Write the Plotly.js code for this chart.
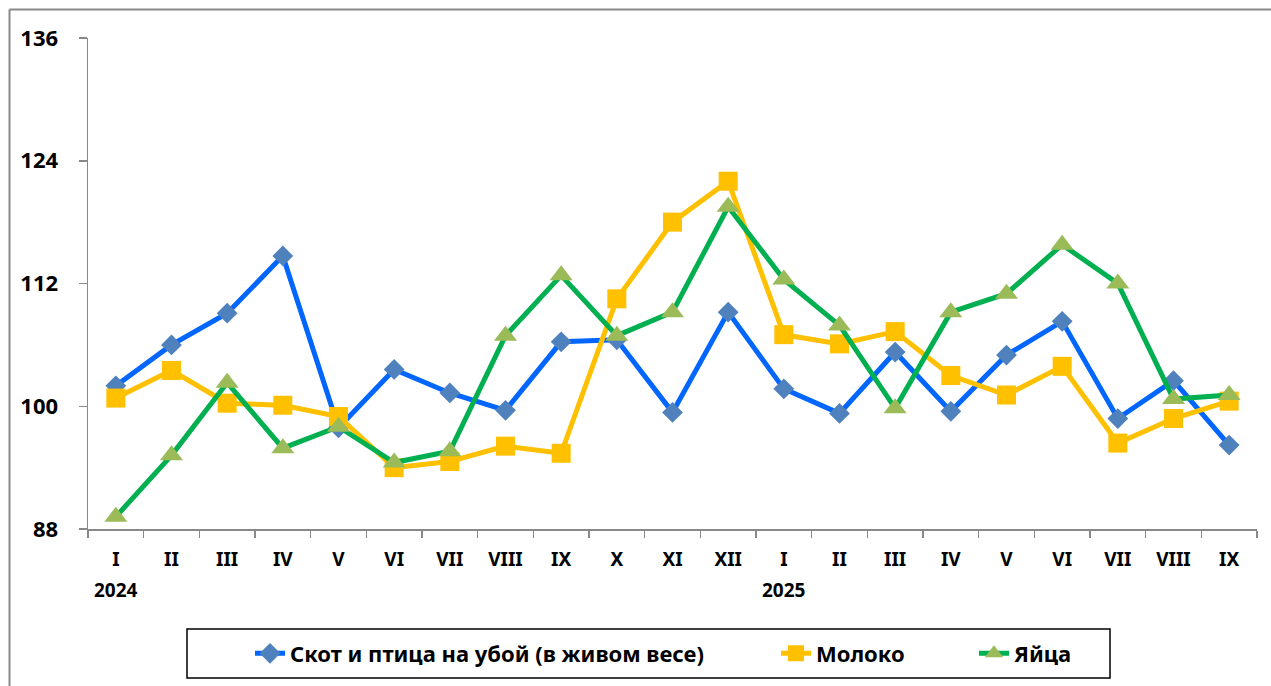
<!DOCTYPE html>
<html>
<head>
<meta charset="utf-8">
<script src="https://cdn.plot.ly/plotly-3.0.1.min.js"></script>
<style>
  html, body { margin: 0; padding: 0; background: #fff; }
  #chart { width: 1271px; height: 686px; }
</style>
</head>
<body>
<div id="chart"></div>
<script>
// Months (Roman numerals) and years
const months = ["I","II","III","IV","V","VI","VII","VIII","IX","X","XI","XII",
                "I","II","III","IV","V","VI","VII","VIII","IX"];
const years  = [2024,2024,2024,2024,2024,2024,2024,2024,2024,2024,2024,2024,
                2025,2025,2025,2025,2025,2025,2025,2025,2025];
const yearLabels = ["2024", "2025"];

const seriesNames = ["Скот и птица на убой (в живом весе)", "Молоко", "Яйца"];

const livestock = [102.0, 106.0, 109.1, 114.7, 97.9, 103.6, 101.3, 99.6, 106.3, 106.5, 99.4, 109.2,
                   101.7, 99.3, 105.3, 99.5, 105.0, 108.3, 98.8, 102.5, 96.2];
const milk      = [100.8, 103.5, 100.3, 100.1, 99.0, 94.0, 94.6, 96.1, 95.4, 110.5, 118.0, 122.0,
                   107.0, 106.1, 107.3, 103.0, 101.1, 103.9, 96.4, 98.8, 100.5];
const eggs      = [89.2, 95.2, 102.3, 95.9, 98.0, 94.5, 95.6, 106.9, 112.8, 106.9, 109.2, 119.5,
                   112.4, 107.9, 99.8, 109.2, 111.0, 115.8, 112.0, 100.7, 101.1];

const yTicks = [88, 100, 112, 124, 136];

// unique category keys
const cats = months.map((m, i) => m + "-" + years[i]);

const FONT = "Noto Sans, Open Sans, sans-serif";

const traces = [
  {
    x: cats, y: livestock, name: seriesNames[0], type: "scatter", mode: "lines+markers",
    line: { color: "#0066FF", width: 5 },
    marker: { symbol: "diamond", size: 16, color: "#4F81BD" },
    legend: "legend"
  },
  {
    x: cats, y: milk, name: seriesNames[1], type: "scatter", mode: "lines+markers",
    line: { color: "#FFC000", width: 5 },
    marker: { symbol: "square", size: 19, color: "#FFC000" },
    legend: "legend2"
  },
  {
    x: cats, y: eggs, name: seriesNames[2], type: "scatter", mode: "lines+markers",
    line: { color: "#00B050", width: 5 },
    marker: { symbol: "triangle-up", size: 20, color: "#9BBB59" },
    legend: "legend3"
  }
];

const L = 88, R = 14, T = 38, B = 157;
const W = 1271, H = 686;
const pw = W - L - R, ph = H - T - B;
const px2x = p => (p - L) / pw;
const py2y = p => (H - B - p) / ph;

const yearIdx = [months.indexOf("I"), months.lastIndexOf("I")];

const legendFont = { family: FONT, size: 22, color: "#000", weight: "bold" };
function mkLegend(textStartPx) {
  return {
    orientation: "h",
    x: px2x(textStartPx - 40), xanchor: "left",
    y: py2y(653.5), yanchor: "middle",
    borderwidth: 0,
    bgcolor: "rgba(0,0,0,0)",
    font: legendFont,
    itemwidth: 30
  };
}

const layout = {
  width: W, height: H,
  margin: { l: L, r: R, t: T, b: B, pad: 0 },
  paper_bgcolor: "#ffffff",
  plot_bgcolor: "#ffffff",
  font: { family: FONT, size: 20, color: "#000", weight: "bold" },
  showlegend: true,
  xaxis: {
    type: "category",
    categoryorder: "array",
    categoryarray: cats,
    tickvals: cats,
    ticktext: months,
    tickson: "boundaries",
    ticks: "outside", ticklen: 7, tickwidth: 1.5, tickcolor: "#898989",
    showline: true, linecolor: "#898989", linewidth: 1.5,
    showgrid: false, zeroline: false,
    tickfont: { family: FONT, size: 19, color: "#000", weight: "bold" },
    ticklabelstandoff: 13,
    range: [-0.5, cats.length - 0.5],
    fixedrange: true
  },
  yaxis: {
    range: [88, 136],
    tickvals: yTicks,
    ticktext: yTicks.map(String),
    ticks: "outside", ticklen: 8, tickwidth: 1.5, tickcolor: "#898989",
    showline: true, linecolor: "#898989", linewidth: 1.5,
    showgrid: false, zeroline: false,
    tickfont: { family: FONT, size: 22, color: "#000", weight: "bold" },
    ticklabelstandoff: 16,
    fixedrange: true
  },
  legend: mkLegend(290),
  legend2: mkLegend(816),
  legend3: mkLegend(1014),
  annotations: yearLabels.map((t, i) => ({
    xref: "x", yref: "paper",
    x: cats[yearIdx[i]], y: py2y(590),
    text: t, showarrow: false,
    xanchor: "center", yanchor: "middle",
    font: { family: FONT, size: 19, color: "#000", weight: "bold" }
  })),
  shapes: [
    { type: "line", xref: "paper", yref: "paper", x0: px2x(9.5), x1: px2x(1290), y0: py2y(9.5), y1: py2y(9.5),
      line: { color: "#8a8a8a", width: 2 } },
    { type: "line", xref: "paper", yref: "paper", x0: px2x(9.5), x1: px2x(9.5), y0: py2y(9.5), y1: py2y(720),
      line: { color: "#8a8a8a", width: 2 } },
    { type: "rect", xref: "paper", yref: "paper", x0: px2x(187), x1: px2x(1110), y0: py2y(629), y1: py2y(678),
      line: { color: "#000000", width: 1.5 }, fillcolor: "rgba(0,0,0,0)" }
  ]
};

Plotly.newPlot("chart", traces, layout, { displayModeBar: false, staticPlot: true });
</script>
</body>
</html>
